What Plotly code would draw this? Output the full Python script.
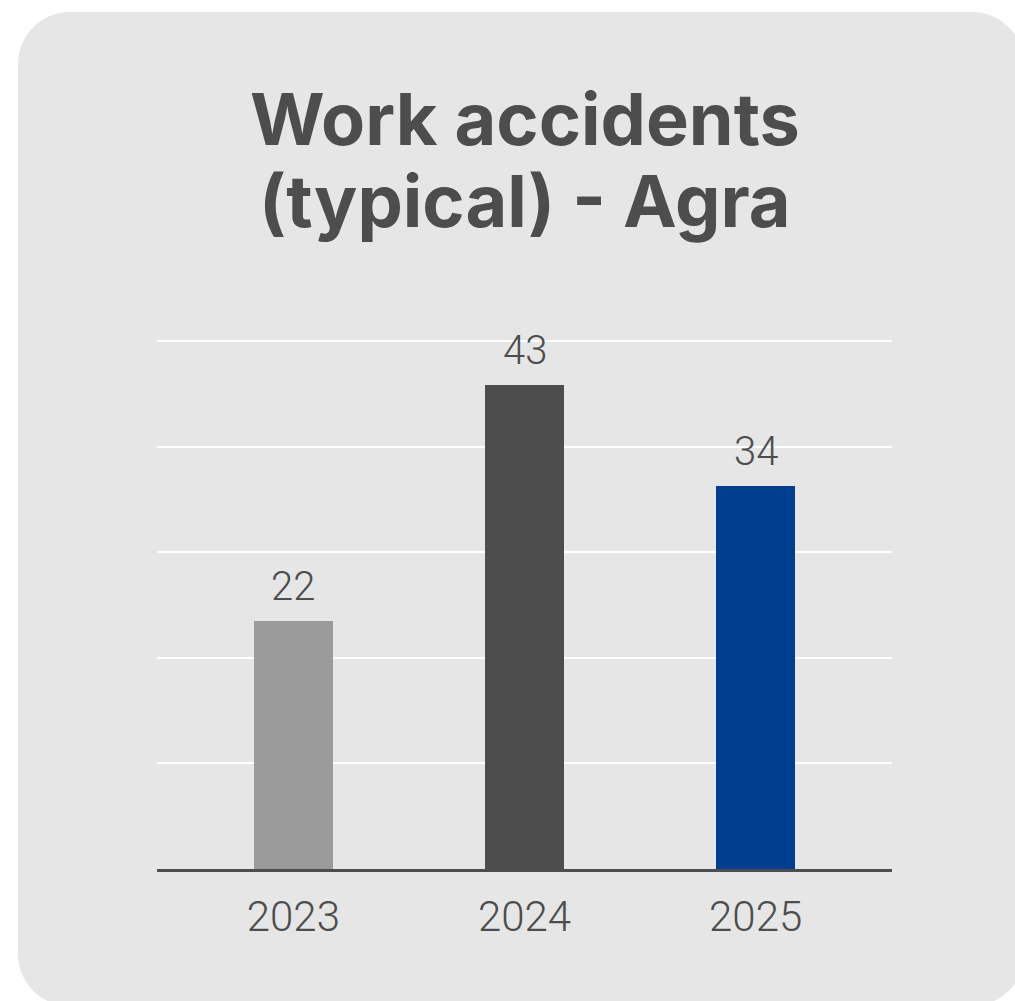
import plotly.graph_objects as go

# Chart data
years = ["2023", "2024", "2025"]
accidents = [22, 43, 34]
bar_colors = ["#9b9b9b", "#4d4d4d", "#003f8f"]
title_lines = ["Work accidents", "(typical) - Agra"]

W, H = 1015, 1001
ML, MR, MT, MB = 157, 123, 338, 132
PW, PH = W - ML - MR, H - MT - MB
Y_STEP = 9.38
Y_TOP = Y_STEP * 5

def px(x):
    return (x - ML) / PW

def py(y):
    return (H - MB - y) / PH

def rounded_rect(x0, y0, x1, y1, r):
    k = 0.5523 * r
    pts = [
        f"M {px(x0 + r)},{py(y0)}",
        f"L {px(x1 - r)},{py(y0)}",
        f"C {px(x1 - r + k)},{py(y0)} {px(x1)},{py(y0 + r - k)} {px(x1)},{py(y0 + r)}",
        f"L {px(x1)},{py(y1 - r)}",
        f"C {px(x1)},{py(y1 - r + k)} {px(x1 - r + k)},{py(y1)} {px(x1 - r)},{py(y1)}",
        f"L {px(x0 + r)},{py(y1)}",
        f"C {px(x0 + r - k)},{py(y1)} {px(x0)},{py(y1 - r + k)} {px(x0)},{py(y1 - r)}",
        f"L {px(x0)},{py(y0 + r)}",
        f"C {px(x0)},{py(y0 + r - k)} {px(x0 + r - k)},{py(y0)} {px(x0 + r)},{py(y0)}",
        "Z",
    ]
    return " ".join(pts)

TEXT = "#4d4d4d"
NUM_FONT = "Roboto, Liberation Sans, Arial, sans-serif"

positions = list(range(len(years)))

fig = go.Figure(
    go.Bar(
        x=positions,
        y=accidents,
        marker=dict(color=bar_colors, line=dict(width=0)),
        width=0.342,
        hoverinfo="skip",
    )
)

# value labels above each bar
for i, v in zip(positions, accidents):
    fig.add_annotation(
        x=i, y=v, xref="x", yref="y", text=str(v), showarrow=False,
        yanchor="bottom", yshift=9,
        font=dict(family=NUM_FONT, size=40, color=TEXT, weight=300),
    )

# two-line title
for line, ymid in zip(title_lines, [119, 201]):
    fig.add_annotation(
        x=0.5, y=py(ymid), xref="paper", yref="paper", text=line,
        showarrow=False, xanchor="center", yanchor="middle", align="center",
        font=dict(family="Inter, Lato, sans-serif", size=72, color=TEXT, weight=700),
    )

# card background
fig.add_shape(
    type="path", xref="paper", yref="paper", layer="below",
    path=rounded_rect(18, 12, 1024, 1006, 52),
    fillcolor="#e6e6e6", line=dict(width=0),
)

fig.update_layout(
    width=W, height=H,
    margin=dict(l=ML, r=MR, t=MT, b=MB, pad=0),
    paper_bgcolor="#ffffff",
    plot_bgcolor="rgba(0,0,0,0)",
    showlegend=False,
    bargap=0,
    xaxis=dict(
        range=[-0.59, 2.59],
        tickmode="array", tickvals=positions, ticktext=years,
        showgrid=False, zeroline=False,
        showline=True, linecolor="#4d4d4d", linewidth=3,
        ticks="outside", ticklen=9, tickcolor="rgba(0,0,0,0)",
        tickfont=dict(family=NUM_FONT, size=42, color=TEXT, weight=300),
        fixedrange=True,
    ),
    yaxis=dict(
        range=[0, Y_TOP + 0.27],
        tick0=0, dtick=Y_STEP,
        showgrid=True, gridcolor="#ffffff", gridwidth=2,
        zeroline=False, showticklabels=False, showline=False,
        fixedrange=True,
    ),
)

fig.write_html("out.html", config={"displayModeBar": False})
